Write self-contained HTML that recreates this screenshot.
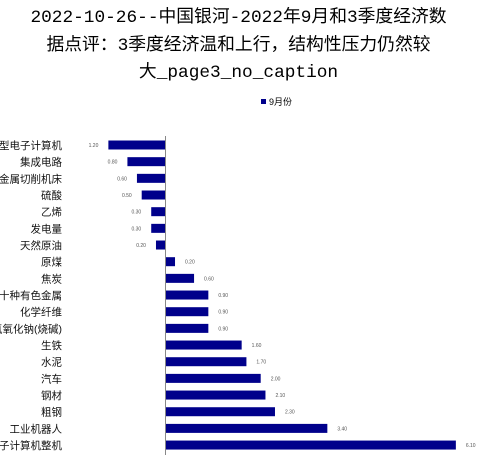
<!DOCTYPE html>
<html><head><meta charset="utf-8"><style>
body{margin:0;width:477px;height:461px;background:#fff;overflow:hidden;font-family:"Liberation Sans","Noto Sans CJK SC",sans-serif}
#title{position:absolute;left:0;top:5px;width:477px;text-align:center;font-family:"Liberation Mono","Noto Sans CJK SC",monospace;font-size:17.8px;line-height:27.5px;color:#000}
</style></head><body>
<div id="title">2022-10-26--中国银河-2022年9月和3季度经济数<br>据点评：3季度经济温和上行，结构性压力仍然较<br>大_page3_no_caption</div>
<svg id="chart" width="477" height="461" style="position:absolute;left:0;top:0">
<g>
<rect x="261" y="99" width="5" height="5" fill="#00008B"/>
<text x="269" y="105" font-size="9" fill="#000">9月份</text>
</g>
<g id="bars"></g>
<line x1="165.5" y1="136" x2="165.5" y2="455" stroke="#888" stroke-width="1"/>
</svg>
<script>
const categories=["微型电子计算机","集成电路","金属切削机床","硫酸","乙烯","发电量","天然原油","原煤","焦炭","十种有色金属","化学纤维","氢氧化钠(烧碱)","生铁","水泥","汽车","钢材","粗钢","工业机器人","电子计算机整机"];
const values=[-1.2,-0.8,-0.6,-0.5,-0.3,-0.3,-0.2,0.2,0.6,0.9,0.9,0.9,1.6,1.7,2.0,2.1,2.3,3.4,6.1];
const labels=["1.20","0.80","0.60","0.50","0.30","0.30","0.20","0.20","0.60","0.90","0.90","0.90","1.60","1.70","2.00","2.10","2.30","3.40","6.10"];
const x0=165.5, k=47.6, yTop=145, step=16.67, bh=9;
const xs=v=>x0+v*k, ys=i=>yTop+i*step;
const g=document.getElementById('bars'), NS="http://www.w3.org/2000/svg";
categories.forEach((c,i)=>{
  const v=values[i], y=ys(i);
  const r=document.createElementNS(NS,'rect');
  r.setAttribute('x',Math.min(xs(0),xs(v)));r.setAttribute('y',y-bh/2);
  r.setAttribute('width',Math.abs(xs(v)-xs(0)));r.setAttribute('height',bh);
  r.setAttribute('fill','#00008B');
  
  
  g.appendChild(r);
  const t=document.createElementNS(NS,'text');
  t.setAttribute('x',v<0?xs(v)-10:xs(v)+10);t.setAttribute('y',y+2);
  t.setAttribute('font-size','5');t.setAttribute('fill','#555');
  t.setAttribute('text-anchor',v<0?'end':'start');
  t.textContent=labels[i];
  
  
  g.appendChild(t);
  const l=document.createElementNS(NS,'text');
  l.setAttribute('x',62);l.setAttribute('y',y+4);
  l.setAttribute('font-size','10.5');l.setAttribute('fill','#111');l.setAttribute('text-anchor','end');
  l.textContent=c;
  
  
  g.appendChild(l);
});
</script>
</body></html>
